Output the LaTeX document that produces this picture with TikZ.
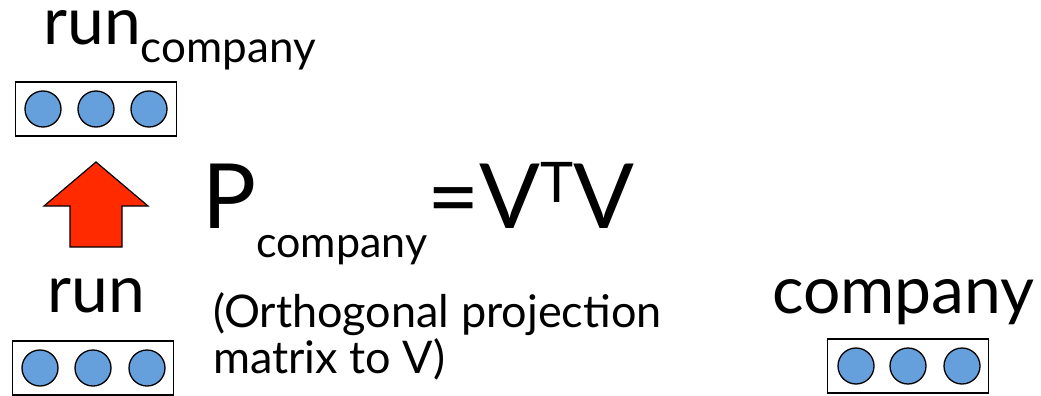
\documentclass[tikz,border=0pt]{standalone}
\usepackage{fontspec}
\setmainfont{Lato}
\definecolor{unitblue}{RGB}{102,160,220}
\definecolor{arrowred}{RGB}{255,42,0}
\begin{document}
\begin{tikzpicture}[x=1pt,y=-1pt]
    \tikzset{
        vec/.style={draw, line width=1.3pt, minimum width=161, minimum height=54, inner sep=0},
        unit/.style={draw, line width=1.3pt, circle, fill=unitblue, minimum size=36, inner sep=0},
        word/.style={anchor=base west, inner sep=0, font=\fontsize{66}{66}\selectfont},
        note/.style={anchor=base west, inner sep=0, font=\fontsize{45}{46}\selectfont}
    }
    \useasboundingbox (0,0) rectangle (1041,396);

    % projected vector (top)
    \draw node[word, text height=34] (runc) at (43,45) {run\raisebox{-18pt}{\fontsize{44}{44}\selectfont company}};
    \draw node[vec] (vtop) at (96,109) {};
    \foreach \i/\x in {1/43,2/96,3/149}
        \draw node[unit] (t\i) at (\x,109) {};

    % block arrow
    \draw[line width=1.2pt, fill=arrowred, line join=miter]
        (70,247) -- (70,206) -- (44,206) -- (96,162) -- (148,206) -- (122,206) -- (122,247) -- cycle;

    % formula
    \draw node[anchor=base west, inner sep=0, font=\fontsize{90}{90}\selectfont] (proj) at (202,228)
        {P\raisebox{-29pt}{\fontsize{43}{43}\selectfont company}=V\raisebox{26pt}{\fontsize{56}{56}\selectfont T}V};
    \draw node[note] (note1) at (213,327) {(Orthogonal projection};
    \draw node[note] (note2) at (213,373) {matrix to V)};

    % word vectors (bottom)
    \draw node[word] (run) at (47,312) {run};
    \draw node[vec] (vrun) at (93,368) {};
    \foreach \i/\x in {1/40,2/93,3/147}
        \draw node[unit] (r\i) at (\x,368) {};

    \draw node[word] (comp) at (772,313) {company};
    \draw node[vec] (vcomp) at (908,366) {};
    \foreach \i/\x in {1/856,2/908,3/962}
        \draw node[unit] (c\i) at (\x,366) {};
\end{tikzpicture}
\end{document}
